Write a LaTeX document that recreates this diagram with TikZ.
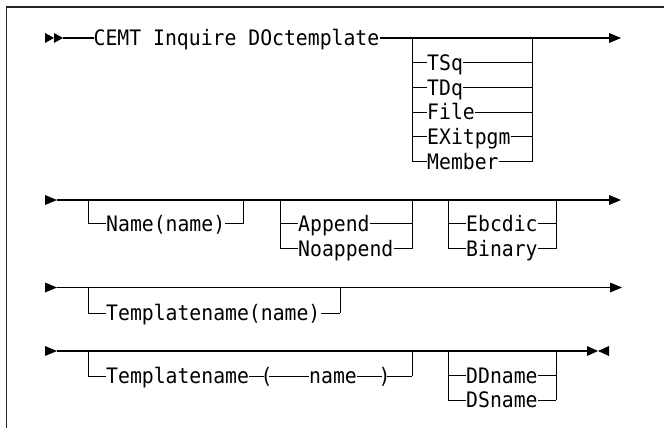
\documentclass[tikz,border=0pt]{standalone}
\usepackage{fontspec}
\newfontfamily\railfont[FakeStretch=0.928]{DejaVu Sans Mono}
\begin{document}
\begin{tikzpicture}[x=1pt,y=-1pt,
  rail/.style={line width=1.1pt},
  branch/.style={line width=0.9pt},
  frameline/.style={line width=1.6pt, black!85},
  kw/.style={anchor=west, inner sep=0pt, text height=15.5pt, text depth=0pt, font=\railfont\fontsize{21.3}{22}\selectfont},
  paren/.style={kw, inner xsep=-3.5pt},
  tipR/.style={fill=black},
]
\useasboundingbox (0,0) rectangle (664,428);
% frame (top and left only)
\draw[frameline] (6.5,7) -- (664,7);
\draw[frameline] (6.5,6.2) -- (6.5,428);

% ---------------- line 1 ----------------
\coordinate (l1s) at (63,38);
\coordinate (l1e) at (609,38);
\fill[tipR] (45,33) -- (54,38) -- (45,43) -- cycle;
\fill[tipR] (54,33) -- (63,38) -- (54,43) -- cycle;
\fill[tipR] (609,33) -- (621,38) -- (609,43) -- cycle;
\node[kw] (cemt) at (93.5,38) {CEMT Inquire DOctemplate};
\draw[rail] (l1s) -- (cemt.west);
\draw[rail] (cemt.east) -- (l1e);
\coordinate (g1l) at (412,38);
\coordinate (g1r) at (532,38);
\draw[branch] (g1l) -- (412,161.7);
\draw[branch] (g1r) -- (532,161.7);
\node[kw] (tsq) at (427,62.7) {TSq};
\node[kw] (tdq) at (427,87.4) {TDq};
\node[kw] (file) at (427,112.2) {File};
\node[kw] (exit) at (427,136.9) {EXitpgm};
\node[kw] (memb) at (427,161.7) {Member};
\foreach \n in {tsq,tdq,file,exit,memb}{
  \draw[branch] (412,0 |- \n.west) -- (\n.west);
  \draw[branch] (\n.east) -- (532,0 |- \n.east);
}

% ---------------- line 2 ----------------
\coordinate (l2s) at (57,200);
\coordinate (l2e) at (609,200);
\fill[tipR] (45,195) -- (57,200) -- (45,205) -- cycle;
\fill[tipR] (609,195) -- (621,200) -- (609,205) -- cycle;
\draw[rail] (l2s) -- (l2e);
% Name group
\draw[branch] (88,200) -- (88,223.5);
\draw[branch] (243,200) -- (243,223.5);
\node[kw] (name) at (106,223.5) {Name(name)};
\draw[branch] (88,223.5) -- (name.west);
\draw[branch] (name.east) -- (243,223.5);
% Append group
\draw[branch] (280,200) -- (280,248.5);
\draw[branch] (412,200) -- (412,248.5);
\node[kw] (app) at (298,223.5) {Append};
\node[kw] (noapp) at (298,248.5) {Noappend};
\foreach \n in {app,noapp}{
  \draw[branch] (280,0 |- \n.west) -- (\n.west);
  \draw[branch] (\n.east) -- (412,0 |- \n.east);
}
% Ebcdic group
\draw[branch] (448,200) -- (448,248.5);
\draw[branch] (556,200) -- (556,248.5);
\node[kw] (ebc) at (466,223.5) {Ebcdic};
\node[kw] (bin) at (466,248.5) {Binary};
\foreach \n in {ebc,bin}{
  \draw[branch] (448,0 |- \n.west) -- (\n.west);
  \draw[branch] (\n.east) -- (556,0 |- \n.east);
}

% ---------------- line 3 ----------------
\coordinate (l3s) at (57,287.5);
\coordinate (l3e) at (610,287.5);
\fill[tipR] (45,282.5) -- (57,287.5) -- (45,292.5) -- cycle;
\fill[tipR] (610,282.5) -- (622,287.5) -- (610,292.5) -- cycle;
\draw[rail] (l3s) -- (l3e);
\draw[branch] (88,287.5) -- (88,313);
\draw[branch] (340,287.5) -- (340,313);
\node[kw] (tn1) at (106,313) {Templatename(name)};
\draw[branch] (88,313) -- (tn1.west);
\draw[branch] (tn1.east) -- (340,313);

% ---------------- line 4 ----------------
\coordinate (l4s) at (57,351);
\coordinate (l4e) at (587,351);
\fill[tipR] (45,346) -- (57,351) -- (45,356) -- cycle;
\fill[tipR] (587,346) -- (598,351) -- (587,356) -- cycle;
\fill[tipR] (609,346) -- (598,351) -- (609,356) -- cycle;
\draw[rail] (l4s) -- (l4e);
\draw[branch] (88,351) -- (88,376);
\draw[branch] (412,351) -- (412,376);
\node[kw] (tn2) at (106,376) {Templatename};
\node[paren] (lp) at (264,376) {(};
\node[kw] (nm) at (309,376) {name};
\node[paren] (rp) at (382,376) {)};
\draw[branch] (88,376) -- (tn2.west);
\draw[branch] (tn2.east) -- (lp.west);
\draw[branch] (lp.east) -- (nm.west);
\draw[branch] (nm.east) -- (rp.west);
\draw[branch] (rp.east) -- (412,376);
% DDname group
\draw[branch] (448,351) -- (448,400);
\draw[branch] (556,351) -- (556,400);
\node[kw] (dd) at (466,375.5) {DDname};
\node[kw] (ds) at (466,400) {DSname};
\foreach \n in {dd,ds}{
  \draw[branch] (448,0 |- \n.west) -- (\n.west);
  \draw[branch] (\n.east) -- (556,0 |- \n.east);
}
\end{tikzpicture}
\end{document}
